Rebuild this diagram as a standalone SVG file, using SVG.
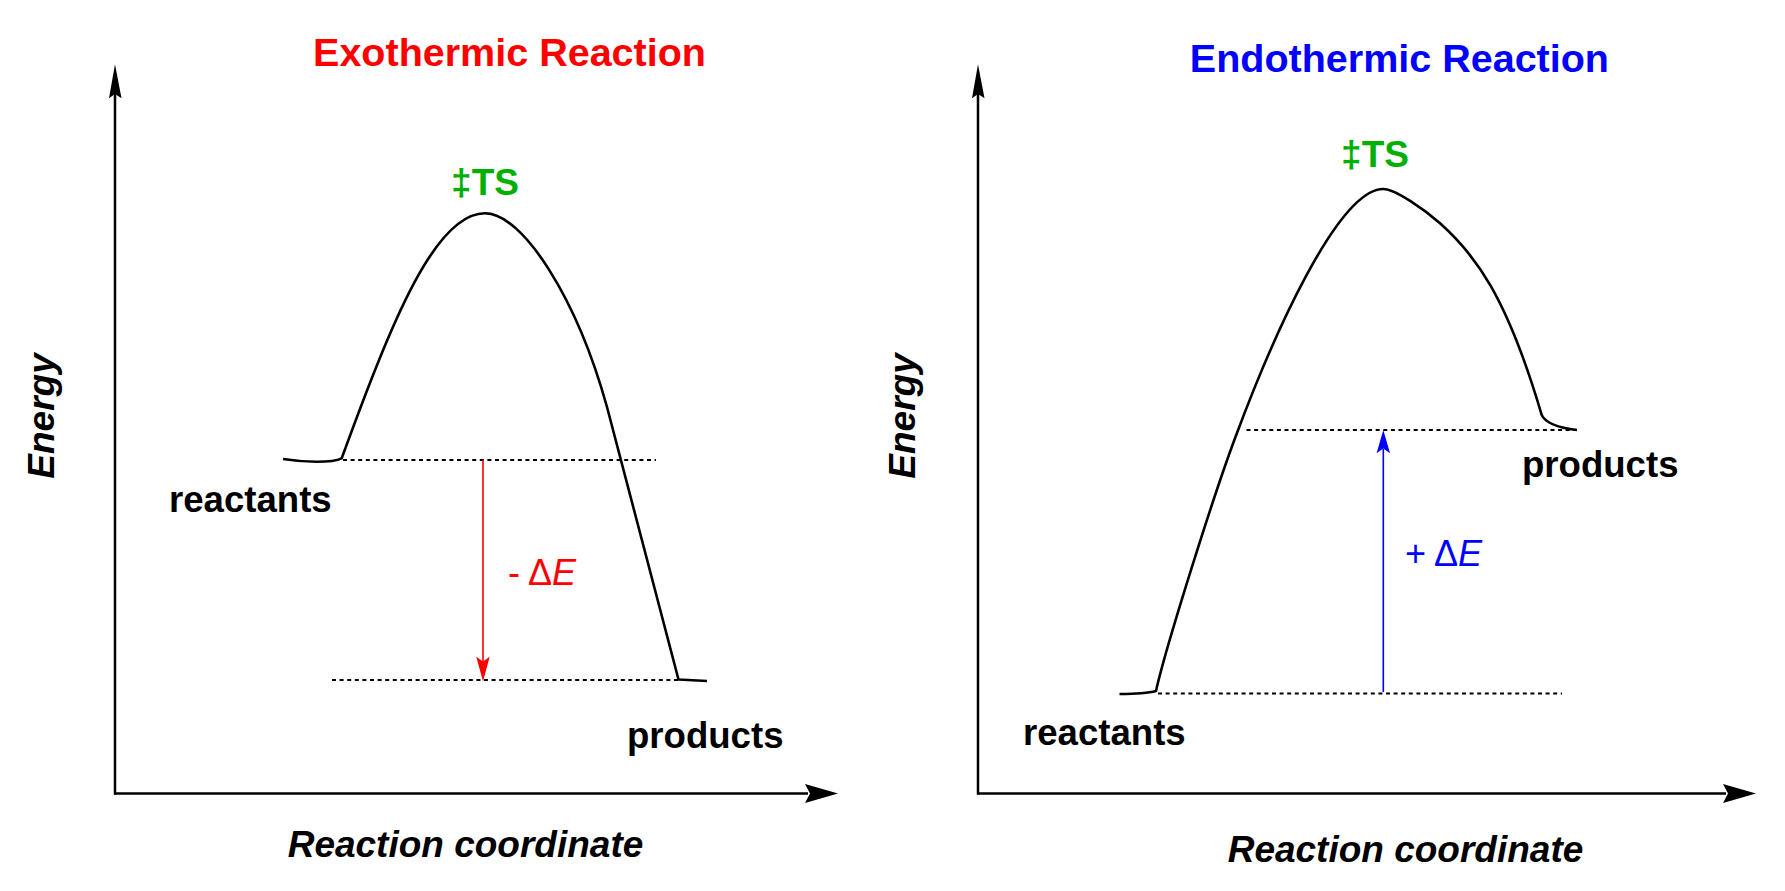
<svg xmlns="http://www.w3.org/2000/svg" width="1785" height="891" viewBox="0 0 1785 891">
<style>
.ax{stroke:#000;stroke-width:2.5;fill:none}
.curve{stroke:#000;stroke-width:2.6;fill:none;stroke-linejoin:round;stroke-linecap:butt}
.dot{stroke:#000;stroke-width:1.8;stroke-dasharray:4 3.6;fill:none}
.lbl{font-family:"Liberation Sans",Arial,sans-serif;font-weight:bold;font-size:36.6px;fill:#000}
.ttl{font-family:"Liberation Sans",Arial,sans-serif;font-weight:bold;font-size:39.5px;text-anchor:middle}
.ts{font-family:"Liberation Sans",Arial,sans-serif;font-weight:bold;font-size:37px;fill:#00B000;text-anchor:middle}
.axl{font-family:"Liberation Sans",Arial,sans-serif;font-weight:bold;font-style:italic;font-size:37px;fill:#000;text-anchor:middle}
.de{font-family:"Liberation Sans",Arial,sans-serif;font-size:36px}
</style>
<rect width="1785" height="891" fill="#fff"/>

<g id="exothermic-panel">
  <g id="exo-axes">
    <line class="ax" x1="115" y1="794.5" x2="115" y2="92"/>
    <polygon points="115,64.3 121.5,98.3 115,94 109,98.3" fill="#000"/>
    <line class="ax" x1="114" y1="793.5" x2="808" y2="793.5"/>
    <polygon points="838,793.5 805,803 810,793.5 805,784" fill="#000"/>
  </g>
  <text id="exo-title" class="ttl" x="509.5" y="66" fill="#FF0000">Exothermic Reaction</text>
  <text id="exo-ts" class="ts" x="485" y="195">‡TS</text>
  <text id="exo-energy" class="axl" transform="translate(54,416) rotate(-90)">Energy</text>
  <text id="exo-xlabel" class="axl" x="465.5" y="857">Reaction coordinate</text>
  <text id="exo-reactants" class="lbl" x="169" y="512">reactants</text>
  <text id="exo-products" class="lbl" x="627" y="748">products</text>
  <g id="exo-levels">
    <line class="dot" x1="343" y1="460" x2="656" y2="460"/>
    <line class="dot" x1="332" y1="680" x2="679" y2="680"/>
  </g>
  <path id="exo-curve" class="curve" d="M 283 459 C 305 462.5, 332 463, 341.7 458.3 C 391.7 321.3, 435 213.3, 485 213.3 C 523 213.3, 577 299, 607 407 L 678.5 679.5 L 707 681"/>
  <g id="exo-delta">
    <line x1="483" y1="460" x2="483" y2="662" stroke="#FF0000" stroke-width="1.6"/>
    <polygon points="483,681.5 476.3,656.7 483,661.5 489.7,656.7" fill="#FF0000"/>
    <text class="de" x="508" y="585" fill="#FF0000">- Δ<tspan font-style="italic">E</tspan></text>
  </g>
</g>

<g id="endothermic-panel">
  <g id="endo-axes">
    <line class="ax" x1="978" y1="794.5" x2="978" y2="92"/>
    <polygon points="978,64.3 984.5,98.3 978,94 972,98.3" fill="#000"/>
    <line class="ax" x1="977" y1="793.5" x2="1726" y2="793.5"/>
    <polygon points="1756,793.5 1723,803 1728,793.5 1723,784" fill="#000"/>
  </g>
  <text id="endo-title" class="ttl" x="1399.4" y="72" fill="#0000FF">Endothermic Reaction</text>
  <text id="endo-ts" class="ts" x="1375" y="166.7">‡TS</text>
  <text id="endo-energy" class="axl" transform="translate(915,416) rotate(-90)">Energy</text>
  <text id="endo-xlabel" class="axl" x="1405.5" y="862">Reaction coordinate</text>
  <text id="endo-reactants" class="lbl" x="1023" y="745">reactants</text>
  <text id="endo-products" class="lbl" x="1522" y="477">products</text>
  <g id="endo-levels">
    <line class="dot" x1="1246.5" y1="430" x2="1576" y2="430"/>
    <line class="dot" x1="1158" y1="693.5" x2="1562" y2="693.5"/>
  </g>
  <path id="endo-curve" class="curve" d="M 1119.5 694 Q 1145 694, 1156 691 C 1165 650, 1212 500, 1235 438.3 C 1273 335.7, 1338.3 189, 1383.3 189 C 1395.3 189, 1425 210, 1440 223.3 C 1475 254.4, 1506.7 296, 1541.7 415 C 1545 422, 1556 427.5, 1577 430"/>
  <g id="endo-delta">
    <line x1="1383.3" y1="692" x2="1383.3" y2="449" stroke="#0000FF" stroke-width="1.6"/>
    <polygon points="1383.3,430 1390,453.3 1383.3,448.5 1376.6,453.3" fill="#0000FF"/>
    <text class="de" x="1405" y="566" fill="#0000FF">+ Δ<tspan font-style="italic">E</tspan></text>
  </g>
</g>
</svg>
